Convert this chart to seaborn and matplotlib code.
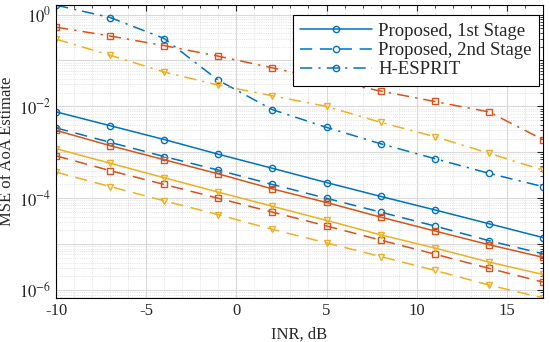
import matplotlib
matplotlib.use('Agg')
import matplotlib.pyplot as plt
import matplotlib.ticker as mticker
from matplotlib.lines import Line2D
import numpy as np
import pandas as pd
import seaborn as sns

# ── Data ──────────────────────────────────────────────────────────────────────
inr_db = [-10, -7, -4, -1, 2, 5, 8, 11, 14, 17]

blue_1st = [7.6e-3, 3.8e-3, 1.9e-3, 9.1e-4, 4.5e-4, 2.2e-4, 1.1e-4, 5.6e-5, 2.8e-5, 1.4e-5]
blue_2nd = [3.4e-3, 1.65e-3, 8.1e-4, 4.1e-4, 2.0e-4, 1.0e-4, 5.0e-5, 2.5e-5, 1.2e-5, 6.2e-6]
blue_hes = [1.6, 0.86, 0.30, 0.037, 8.5e-3, 3.5e-3, 1.54e-3, 7.3e-4, 3.5e-4, 1.8e-4]

orange_1st = [3.0e-3, 1.4e-3, 6.9e-4, 3.4e-4, 1.6e-4, 8.1e-5, 3.9e-5, 1.95e-5, 9.8e-6, 5.2e-6]
orange_2nd = [8.4e-4, 4.0e-4, 2.0e-4, 1.0e-4, 5.0e-5, 2.5e-5, 1.23e-5, 6.1e-6, 3.0e-6, 1.5e-6]
orange_hes = [0.53, 0.34, 0.21, 0.124, 0.069, 0.038, 0.0216, 0.0128, 0.0076, 0.0019]

yellow_1st = [1.2e-3, 5.8e-4, 2.8e-4, 1.36e-4, 6.7e-5, 3.3e-5, 1.6e-5, 8.3e-6, 4.1e-6, 2.2e-6]
yellow_2nd = [3.7e-4, 1.8e-4, 8.8e-5, 4.4e-5, 2.1e-5, 1.07e-5, 5.4e-6, 2.7e-6, 1.3e-6, 6.8e-7]
yellow_hes = [0.29, 0.13, 0.056, 0.029, 0.017, 0.010, 4.5e-3, 2.2e-3, 9.6e-4, 4.1e-4]

methods = ['Proposed, 1st Stage', 'Proposed, 2nd Stage', 'H-ESPRIT']
series = {
    'blue':   [blue_1st, blue_2nd, blue_hes],
    'orange': [orange_1st, orange_2nd, orange_hes],
    'yellow': [yellow_1st, yellow_2nd, yellow_hes],
}

# ── Style ─────────────────────────────────────────────────────────────────────
sns.set_style('white')
plt.rcParams['font.family'] = ['Liberation Serif', 'DejaVu Serif']
plt.rcParams['mathtext.fontset'] = 'stix'
plt.rcParams['axes.unicode_minus'] = False

colors = {'blue': '#0072BD', 'orange': '#D95319', 'yellow': '#EDB120'}
markers = {'blue': 'o', 'orange': 's', 'yellow': 'v'}
dashes = {
    'Proposed, 1st Stage': None,
    'Proposed, 2nd Stage': (8, 5),
    'H-ESPRIT': (8, 4, 1.5, 4),
}

rows = []
for case, vals in series.items():
    for method, ys in zip(methods, vals):
        for x, y in zip(inr_db, ys):
            rows.append({'INR': x, 'MSE': y, 'method': method, 'case': case})
df = pd.DataFrame(rows)

fig = plt.figure(figsize=(5.5, 3.42), dpi=100)
ax = fig.add_axes([0.102, 0.129, 0.885, 0.856])

for case in series:
    for method in methods:
        sub = df[(df['case'] == case) & (df['method'] == method)]
        sns.lineplot(data=sub, x='INR', y='MSE', ax=ax, color=colors[case],
                     marker=markers[case], markersize=4.5, markerfacecolor='none',
                     markeredgecolor=colors[case], markeredgewidth=1.0,
                     linewidth=1.1, legend=False)
        if dashes[method] is not None:
            ax.get_lines()[-1].set_dashes(dashes[method])

ax.set_yscale('log')
ax.set_xlim(-10, 17)
ymin, ymax = df['MSE'].min(), df['MSE'].max()
ax.set_ylim(ymin, ymax)

ax.xaxis.set_major_locator(mticker.MultipleLocator(5))
ax.xaxis.set_minor_locator(mticker.MultipleLocator(1))
ax.yaxis.set_major_locator(mticker.FixedLocator([1e-6, 1e-5, 1e-4, 1e-3, 1e-2, 1e-1, 1e0]))
ax.yaxis.set_minor_locator(mticker.LogLocator(base=10, subs=np.arange(2, 10), numticks=20))
ax.yaxis.set_major_formatter(mticker.FuncFormatter(
    lambda v, p: r'$10^{%d}$' % round(np.log10(v)) if round(np.log10(v)) % 2 == 0 else ''))
ax.yaxis.set_minor_formatter(mticker.NullFormatter())

ax.grid(True, which='major', color='#d9d9d9', linewidth=0.8, linestyle='-')
ax.grid(True, which='minor', color='#cfcfcf', linewidth=0.5, linestyle=':')
ax.set_axisbelow(True)

ax.tick_params(which='both', direction='in', top=True, right=True, labelsize=12)
ax.tick_params(which='major', length=4)
ax.tick_params(which='minor', length=2)
for s in ax.spines.values():
    s.set_color('black')
    s.set_linewidth(0.8)

ax.set_xlabel('INR, dB', fontsize=12, labelpad=6)
ax.set_ylabel('MSE of AoA Estimate', fontsize=12, labelpad=3)

handles = []
for m in methods:
    h = Line2D([], [], color=colors['blue'], marker='o', markersize=4.5,
               markerfacecolor='none', linewidth=1.1)
    if dashes[m] is not None:
        h.set_dashes(dashes[m])
    handles.append(h)
leg = ax.legend(handles, methods, loc='upper right', bbox_to_anchor=(0.992, 0.966),
                fontsize=13.5, handlelength=3.85, frameon=True, fancybox=False,
                edgecolor='black', framealpha=1, borderpad=0.4, labelspacing=0.12,
                handletextpad=0.3, borderaxespad=0)
leg.get_frame().set_linewidth(0.8)

fig.savefig('out.png', dpi=100)
